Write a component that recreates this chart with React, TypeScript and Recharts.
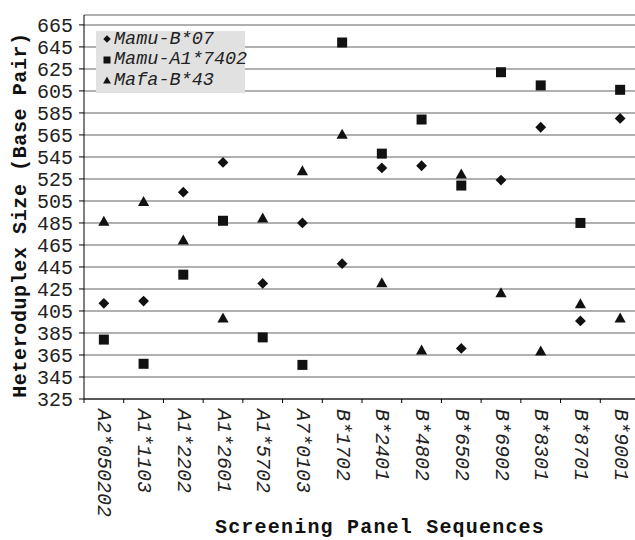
import { ComposedChart, Scatter, XAxis, YAxis, CartesianGrid, Legend, Label } from 'recharts';

const CATEGORIES = [
    'A2*050202', 'A1*1103', 'A1*2202', 'A1*2601', 'A1*5702', 'A7*0103', 'B*1702',
    'B*2401', 'B*4802', 'B*6502', 'B*6902', 'B*8301', 'B*8701', 'B*9001',
];
const MAMU_B07 = [412, 414, 513, 540, 430, 485, 448, 535, 537, 371, 524, 572, 396, 580];
const MAMU_A17402 = [379, 357, 438, 487, 381, 356, 649, 548, 579, 519, 622, 610, 485, 606];
const MAFA_B43 = [487, 505, 470, 399, 490, 533, 566, 431, 370, 530, 422, 369, 412, 399];
const Y_TICKS = [325, 345, 365, 385, 405, 425, 445, 465, 485, 505, 525, 545, 565, 585, 605, 625, 645, 665];

const SERIES = [
    { key: 'b07', name: 'Mamu-B*07', shape: 'diamond' },
    { key: 'a17402', name: 'Mamu-A1*7402', shape: 'square' },
    { key: 'b43', name: 'Mafa-B*43', shape: 'triangle' },
];

const rows = CATEGORIES.map((name, i) => ({
    name,
    b07: MAMU_B07[i],
    a17402: MAMU_A17402[i],
    b43: MAFA_B43[i],
}));

const CHART_W = 645;
const CHART_H = 540;
const Y_AXIS_W = 84;
const MARGIN = { top: 15, right: 5, bottom: 0, left: 0 };
const HALF_BAND = (CHART_W - MARGIN.left - MARGIN.right - Y_AXIS_W) / CATEGORIES.length / 2;
const INK = '#111';
const MONO = "'Liberation Mono', 'Courier New', monospace";

const Marker = ({ cx, cy, kind, s = 1 }: any) => {
    if (cx == null || cy == null) return null;
    if (kind === 'diamond') {
        const r = 5.4 * s;
        return <polygon points={`${cx},${cy - r} ${cx + r},${cy} ${cx},${cy + r} ${cx - r},${cy}`} fill={INK} />;
    }
    if (kind === 'square') {
        const h = 5 * s;
        return <rect x={cx - h} y={cy - h} width={h * 2} height={h * 2} fill={INK} />;
    }
    const w = 5.6 * s;
    const h = 5 * s;
    return <polygon points={`${cx},${cy - h} ${cx + w},${cy + h} ${cx - w},${cy + h}`} fill={INK} />;
};

const XTick = ({ x, y, payload }: any) => {
    const axisY = y - 10;
    return (
        <g>
            <line x1={x - HALF_BAND} y1={axisY} x2={x - HALF_BAND} y2={axisY + 4} stroke="#000" />
            <text
                x={x}
                y={y}
                transform={`rotate(90, ${x}, ${y})`}
                textAnchor="start"
                dominantBaseline="central"
                fontFamily={MONO}
                fontStyle="italic"
                fontSize={20}
                fill="#222"
            >
                {payload.value}
            </text>
        </g>
    );
};

const LegendBox = () => (
    <div style={{ background: '#e1e1e1', width: 149, height: 62, fontFamily: MONO, fontStyle: 'italic', fontSize: 18.5, color: '#222' }}>
        {SERIES.map((s, i) => (
            <div key={s.key} style={{ position: 'absolute', left: 4, top: i * 20.4 - 2, height: 20.4, display: 'flex', alignItems: 'center', whiteSpace: 'nowrap' }}>
                <svg width={14} height={14}>
                    <Marker cx={7} cy={7} kind={s.shape} s={0.7} />
                </svg>
                <span>{s.name}</span>
            </div>
        ))}
    </div>
);

export default function App() {
    return (
        <div style={{ position: 'fixed', left: 0, top: 0, width: 635, height: 540, overflow: 'hidden', background: '#fff' }}>
            <ComposedChart width={CHART_W} height={CHART_H} data={rows} margin={MARGIN}>
                <CartesianGrid horizontal vertical={false} stroke="#969696" strokeWidth={1.5} />
                <XAxis
                    dataKey="name"
                    type="category"
                    height={141}
                    interval={0}
                    padding={{ left: HALF_BAND, right: HALF_BAND }}
                    tickLine={false}
                    tickSize={5}
                    tickMargin={5}
                    tick={<XTick />}
                    axisLine={{ stroke: '#000' }}
                >
                    <Label
                        content={({ viewBox }: any) => (
                            <text
                                x={viewBox.x + viewBox.width / 2 + 18}
                                y={viewBox.y + 128}
                                textAnchor="middle"
                                dominantBaseline="central"
                                fontFamily={MONO}
                                fontWeight="bold"
                                fontSize={20}
                                letterSpacing={1.2}
                                fill="#111"
                            >
                                Screening Panel Sequences
                            </text>
                        )}
                    />
                </XAxis>
                <YAxis
                    type="number"
                    domain={[325, 674]}
                    ticks={Y_TICKS}
                    interval={0}
                    width={Y_AXIS_W}
                    tickSize={5}
                    tickMargin={6}
                    axisLine={{ stroke: '#000' }}
                    tickLine={{ stroke: '#000' }}
                    tick={{ fontFamily: MONO, fontSize: 20, fill: '#222' }}
                    allowDataOverflow
                >
                    <Label
                        content={({ viewBox }: any) => {
                            const cx = viewBox.x + 20;
                            const cy = viewBox.y + viewBox.height / 2 + 8;
                            return (
                                <text
                                    x={cx}
                                    y={cy}
                                    transform={`rotate(-90, ${cx}, ${cy})`}
                                    textAnchor="middle"
                                    dominantBaseline="central"
                                    fontFamily={MONO}
                                    fontWeight="bold"
                                    fontSize={20}
                                    letterSpacing={0.6}
                                    fill="#111"
                                >
                                    Heteroduplex Size (Base Pair)
                                </text>
                            );
                        }}
                    />
                </YAxis>
                {SERIES.map((s) => (
                    <Scatter
                        key={s.key}
                        name={s.name}
                        dataKey={s.key}
                        fill={INK}
                        isAnimationActive={false}
                        shape={(p: any) => <Marker cx={p.cx} cy={p.cy} kind={s.shape} />}
                    />
                ))}
                <Legend
                    layout="horizontal"
                    verticalAlign="middle"
                    align="center"
                    content={<LegendBox />}
                    wrapperStyle={{ left: 96, top: 31, width: 149, height: 62 }}
                />
            </ComposedChart>
        </div>
    );
}
